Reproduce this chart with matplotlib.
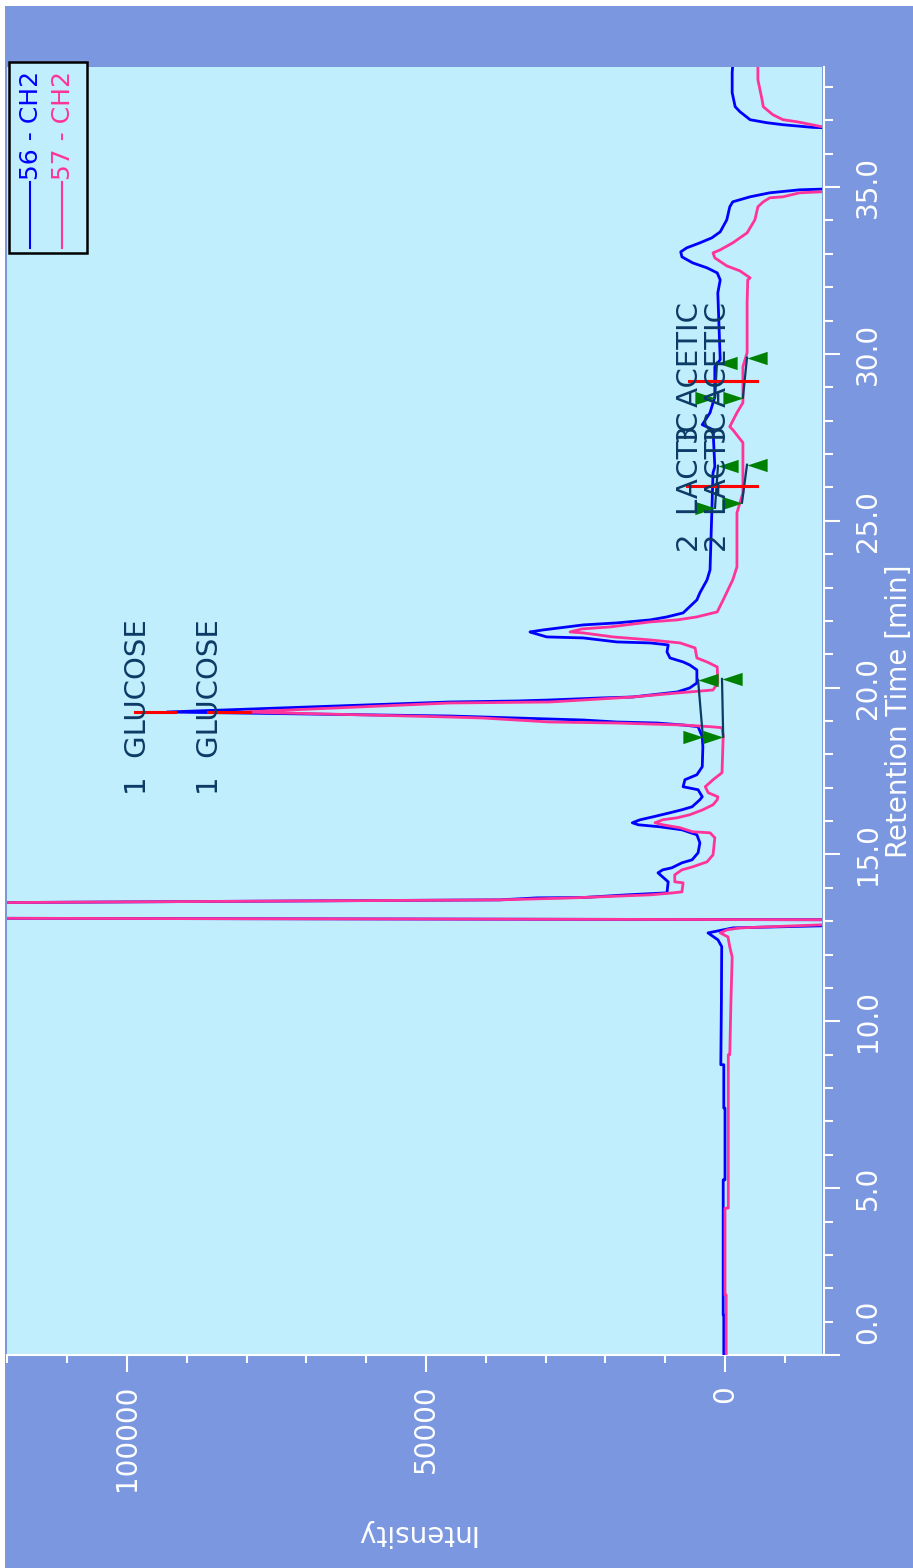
import matplotlib
matplotlib.use("Agg")
import matplotlib.pyplot as plt
from matplotlib.patches import Rectangle
from matplotlib.lines import Line2D
from matplotlib.path import Path
from matplotlib.ticker import MultipleLocator, FixedLocator
import matplotlib.transforms as mtransforms

plt.rcParams['font.family'] = ['DejaVu Sans']

# Trace 56 - CH2 (retention time in min, intensity)
blue_t = [0.0, 1.2, 1.2, 5.25, 5.25, 7.4, 7.4, 8.7, 8.7, 10.6, 12.24, 12.44, 12.65, 12.68, 12.80, 12.86,
          12.92, 13.04, 13.10, 13.52, 13.64, 13.70, 13.71, 13.79, 13.82, 13.85, 14.18, 14.45, 14.54, 14.60,
          14.75, 14.84, 15.05, 15.35, 15.59, 15.74, 15.83, 15.89, 15.95, 16.04, 16.13, 16.25, 16.34, 16.43,
          16.64, 16.73, 16.94, 17.03, 17.24, 17.39, 17.63, 18.23, 18.53, 18.83, 18.88, 18.94, 18.97, 19.03,
          19.09, 19.12, 19.15, 19.27, 19.57, 19.60, 19.63, 19.69, 19.72, 19.78, 19.87, 19.99, 20.14, 20.53,
          20.68, 20.77, 20.89, 21.07, 21.28, 21.34, 21.37, 21.49, 21.52, 21.64, 21.67, 21.73, 21.88, 21.94,
          22.03, 22.12, 22.24, 22.63, 22.84, 23.23, 23.53, 25.24, 26.44, 26.62, 27.73, 27.88, 28.24, 28.72,
          29.62, 29.83, 31.83, 32.22, 32.43, 32.58, 32.73, 32.91, 33.06, 33.18, 33.33, 33.48, 33.66, 34.02,
          34.41, 34.56, 34.71, 34.83, 34.92, 34.94, 34.98, 36.70, 36.78, 36.79, 36.87, 36.93, 37.02, 37.26,
          37.41, 37.83, 38.43, 38.67]
blue_i = [200, 200, 300, 300, 0, 0, 200, 200, 700, 600, 550, 1170, 2840, 2000, -1340, -15900,
          -30000, -30000, 160000, 160000, 37600, 31400, 23700, 16400, 13000, 9700, 9500, 11200, 10400, 8900,
          7200, 5500, 4500, 4200, 4700, 7200, 10900, 14500, 15500, 14200, 12000, 9200, 7200, 5500,
          4200, 3800, 4500, 7000, 6700, 4700, 3800, 3700, 3800, 4500, 7000, 11400, 18100, 23700,
          34800, 40500, 46000, 93300, 46000, 34800, 29300, 20900, 15400, 12500, 8000, 5900, 4700, 4700,
          5900, 7000, 9200, 9700, 9500, 12500, 18100, 23700, 29800, 32100, 32600, 30400, 23700, 18100,
          12500, 9700, 7000, 4700, 4200, 3000, 2500, 2200, 2000, 1700, 2000, 3800, 2500, 1700,
          1700, 800, 1200, 800, 1300, 3000, 5400, 7200, 7400, 6400, 4200, 2200, 800, -300,
          -800, -1300, -4200, -7500, -12500, -16200, -30000, -30000, -16200, -14700, -9700, -7000, -4200, -2500,
          -1700, -1200, -1200, -1300]

# Trace 57 - CH2
pink_t = [0.0, 1.8, 1.8, 4.4, 4.4, 9.0, 9.0, 10.64, 11.93, 12.23, 12.53, 12.65, 12.74, 12.80, 12.89,
          12.93, 13.04, 13.10, 13.52, 13.64, 13.70, 13.79, 13.85, 13.88, 14.15, 14.18, 14.39, 14.54, 14.63,
          14.78, 14.99, 15.50, 15.65, 15.68, 15.80, 15.89, 15.95, 16.04, 16.10, 16.19, 16.34, 16.49, 16.64,
          16.73, 16.85, 17.03, 17.24, 17.45, 18.53, 18.80, 18.83, 18.88, 18.94, 18.97, 19.09, 19.12, 19.27,
          19.54, 19.57, 19.72, 19.84, 19.93, 20.14, 20.62, 20.77, 20.89, 21.19, 21.34, 21.43, 21.52, 21.64,
          21.67, 21.76, 21.82, 21.97, 22.03, 22.12, 22.27, 22.63, 23.23, 23.62, 25.24, 25.84, 27.34, 27.73,
          27.82, 28.24, 28.54, 29.62, 30.04, 31.53, 32.22, 32.28, 32.49, 32.64, 32.88, 33.03, 33.12, 33.33,
          33.63, 34.02, 34.41, 34.56, 34.68, 34.71, 34.83, 34.86, 34.90, 36.72, 36.81, 36.96, 37.02, 37.17,
          37.41, 37.62, 38.22, 38.67]
pink_i = [-200, -200, 0, 0, -550, -550, -800, -1000, -1200, -800, -500, 800, -300, -2500, -15900,
          -30000, -30000, 160000, 160000, 37600, 25400, 12500, 8700, 7200, 7000, 8400, 8400, 7200, 5400,
          3000, 2000, 1700, 2500, 5400, 7500, 10400, 11700, 10400, 8000, 5900, 3700, 2000, 1300,
          1200, 2800, 3300, 2000, 500, 300, 500, 2500, 7000, 18100, 29300, 40500, 46000, 80600,
          46000, 29300, 15400, 8000, 2000, 1200, 1300, 3000, 4700, 5000, 7500, 12500, 18700, 23700,
          25900, 23900, 19200, 12500, 8000, 4700, 1300, 300, -1300, -2000, -2000, -3000, -3000, -1300,
          -800, -2000, -3000, -3000, -3700, -3700, -3800, -4200, -2500, -300, 1700, 2000, 800, -1300,
          -3700, -5000, -5500, -6400, -7500, -9700, -12500, -16200, -30000, -30000, -16200, -12000, -9700, -8000,
          -6400, -6200, -5500, -5500]

# Peak labels: text, intensity of label, time where label starts
peak_names = ["1  GLUCOSE", "1  GLUCOSE", "2  LACTIC", "2  LACTIC", "3  ACETIC", "3  ACETIC"]
label_i = [98100, 86100, 5850, 1170, 5850, 1170]
label_t = [16.79, 16.79, 24.07, 24.07, 27.31, 27.31]

# Apex markers (time, intensity from, intensity to)
apex_t = [19.27, 19.27, 26.05, 26.05, 29.20, 29.20]
apex_i0 = [98600, 86400, 6350, 3000, 6000, 2700]
apex_i1 = [91900, 79400, -1700, -5350, -2000, -5350]

# Baselines (start time, start intensity, end time, end intensity)
base_t0 = [18.53, 18.53, 25.39, 25.54, 28.69, 28.69]
base_i0 = [3700, 300, 1670, -2840, 1670, -3000]
base_t1 = [20.23, 20.26, 26.65, 26.68, 29.74, 29.89]
base_i1 = [4500, 500, 1170, -3680, 1340, -3680]

time_ticks = [0, 5, 10, 15, 20, 25, 30, 35]
int_ticks = [0, 50000, 100000]

W, H = 913, 1568
bg_outer = '#7A97DF'
bg_plot = '#C0EEFC'
navy = '#0B3A66'

fig = plt.figure(figsize=(W / 100, H / 100), dpi=100, facecolor='white')
fig.add_artist(Rectangle((5 / W, 0), 1, 1 - 6 / H, transform=fig.transFigure,
                         facecolor=bg_outer, edgecolor='none', zorder=-10))

ax = fig.add_axes([7 / W, 1 - 1355 / H, 815 / W, 1288 / H])
ax.set_facecolor(bg_plot)

ax.plot(blue_i, blue_t, color='#0000FF', lw=2.0, zorder=3)
ax.plot(pink_i, pink_t, color='#FF3399', lw=2.0, zorder=4)

# baselines and markers
right_tri = Path([(0, 0), (-1, 0.33), (-1, -0.33), (0, 0)], closed=True)
left_tri = Path([(0, 0), (1, 0.33), (1, -0.33), (0, 0)], closed=True)
for k in range(len(base_t0)):
    ax.plot([base_i0[k], base_i1[k]], [base_t0[k], base_t1[k]], color=navy, lw=1.6, zorder=5)
    ax.plot(base_i0[k], base_t0[k], marker=right_tri, ms=29, color='#008000', mew=0, zorder=6)
    ax.plot(base_i1[k], base_t1[k], marker=left_tri, ms=29, color='#008000', mew=0, zorder=6)

for k in range(len(apex_t)):
    ax.plot([apex_i0[k], apex_i1[k]], [apex_t[k], apex_t[k]], color='#FF0000', lw=2.2, zorder=7)

for k in range(len(peak_names)):
    ax.text(label_i[k], label_t[k], peak_names[k], rotation=90, ha='center', va='bottom',
            fontsize=21, color=navy, zorder=8)

ax.set_xlim(120050, -16220)
ax.set_ylim(0, 38.6)

# axes on bottom and right, white
for s in ['top', 'left']:
    ax.spines[s].set_visible(False)
for s in ['bottom', 'right']:
    ax.spines[s].set_color('white')
    ax.spines[s].set_linewidth(1.5)
ax.spines['right'].set_position(('outward', 1.5))

ax.yaxis.tick_right()
ax.yaxis.set_label_position('right')
ax.yaxis.set_major_locator(FixedLocator(time_ticks))
ax.yaxis.set_minor_locator(MultipleLocator(1))
ax.xaxis.set_major_locator(FixedLocator(int_ticks))
ax.xaxis.set_minor_locator(MultipleLocator(10000))
ax.set_yticklabels(['%.1f' % t for t in time_ticks])
ax.set_xticklabels(['%d' % v for v in int_ticks])

ax.tick_params(axis='y', which='major', direction='out', length=11.5, width=1.5, color='white',
               labelcolor='white', labelsize=20, pad=10, labelrotation=90)
ax.tick_params(axis='y', which='minor', direction='out', length=6.5, width=1.5, color='white')
ax.tick_params(axis='x', which='major', direction='out', length=12.5, width=1.5, color='white',
               labelcolor='white', labelsize=20, pad=9, labelrotation=90)
ax.tick_params(axis='x', which='minor', direction='out', length=6, width=1.5, color='white')

for tick in ax.yaxis.get_major_ticks():
    tick.label2.set_verticalalignment('center')
# first label sits above the axis end
first = ax.yaxis.get_major_ticks()[0].label2
first.set_verticalalignment('bottom')
first.set_transform(first.get_transform() + mtransforms.ScaledTranslation(0, 8 / 72, fig.dpi_scale_trans))

ax.set_ylabel('Retention Time [min]', rotation=90, fontsize=20, color='white', labelpad=2)
ax.set_xlabel('Intensity', rotation=180, fontsize=20, color='white', labelpad=20)

# legend drawn by hand (rotated)
fig.add_artist(Rectangle((9 / W, 1 - 253 / H), 78 / W, 191 / H, transform=fig.transFigure,
                         facecolor=bg_plot, edgecolor='black', lw=1.8, zorder=10))
fig.add_artist(Line2D([30 / W, 30 / W], [1 - 248 / H, 1 - 182 / H], transform=fig.transFigure,
                      color='#0000FF', lw=1.5, zorder=11))
fig.add_artist(Line2D([62 / W, 62 / W], [1 - 248 / H, 1 - 182 / H], transform=fig.transFigure,
                      color='#FF3399', lw=1.5, zorder=11))
fig.text(31 / W, 1 - 180 / H, '56 - CH2', rotation=90, ha='center', va='bottom',
         fontsize=18, color='#0000FF', zorder=12)
fig.text(63 / W, 1 - 180 / H, '57 - CH2', rotation=90, ha='center', va='bottom',
         fontsize=18, color='#FF3399', zorder=12)

fig.savefig('out.png', dpi=100, facecolor=fig.get_facecolor())
